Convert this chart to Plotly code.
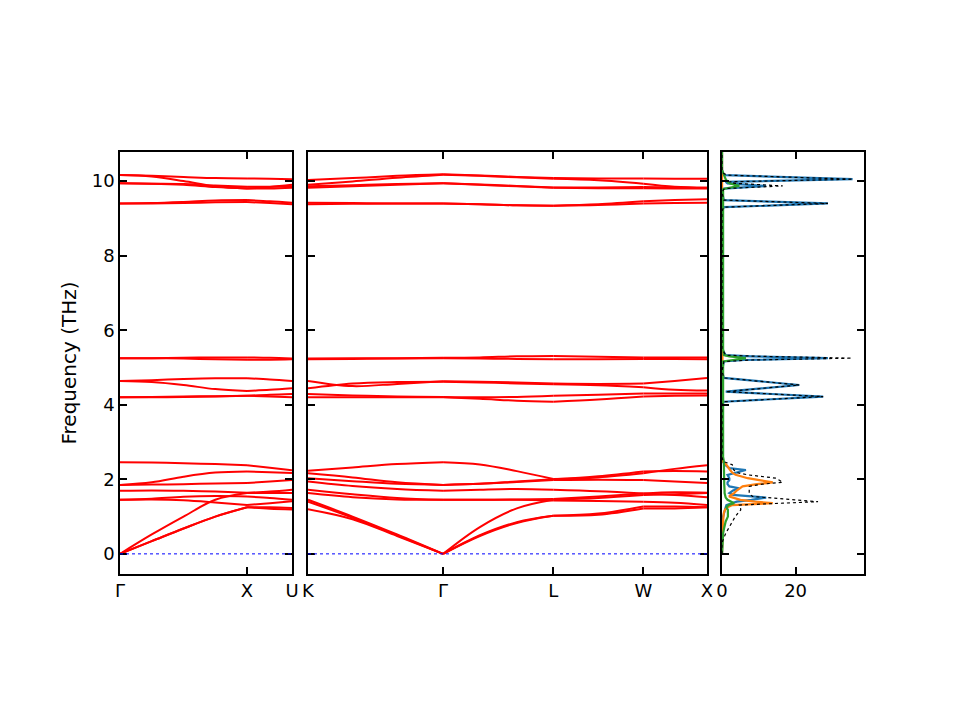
import plotly.graph_objects as go

# ---- band structure data (frequencies in THz) ----
# path distances along the zone path, 2pi/a units
k_left = [0.0, 0.25, 0.5, 0.75, 1.0, 1.18, 1.354]
sym_left = [0, 4, 6]
lab_left = ['Γ', 'X', 'U']

k_mid = [0.0, 0.35, 0.7, 1.061, 1.35, 1.64, 1.927, 2.28, 2.634, 2.88, 3.134]
sym_mid = [0, 3, 6, 8, 10]
lab_mid = ['K', 'Γ', 'L', 'W', 'X']

# Γ -> X -> U
bands_left = [
    [10.16, 10.14, 10.11, 10.08, 10.07, 10.06, 10.05],
    [10.16, 10.12, 10.00, 9.86, 9.80, 9.84, 9.90],
    [9.94, 9.93, 9.92, 9.88, 9.85, 9.85, 9.86],
    [9.94, 9.93, 9.90, 9.84, 9.80, 9.80, 9.82],
    [9.40, 9.41, 9.44, 9.48, 9.49, 9.46, 9.42],
    [9.40, 9.40, 9.41, 9.43, 9.44, 9.41, 9.38],
    [5.25, 5.25, 5.26, 5.27, 5.27, 5.26, 5.24],
    [5.25, 5.25, 5.24, 5.22, 5.21, 5.21, 5.22],
    [4.64, 4.66, 4.69, 4.71, 4.71, 4.68, 4.64],
    [4.64, 4.61, 4.53, 4.42, 4.37, 4.40, 4.44],
    [4.20, 4.21, 4.22, 4.23, 4.24, 4.27, 4.29],
    [4.20, 4.20, 4.21, 4.22, 4.24, 4.22, 4.20],
    [2.46, 2.45, 2.43, 2.41, 2.38, 2.31, 2.24],
    [1.85, 1.92, 2.07, 2.18, 2.21, 2.19, 2.17],
    [1.85, 1.86, 1.87, 1.89, 1.90, 1.94, 1.98],
    [1.69, 1.70, 1.69, 1.67, 1.64, 1.67, 1.72],
    [1.45, 1.48, 1.53, 1.55, 1.54, 1.50, 1.45],
    [1.45, 1.46, 1.44, 1.38, 1.31, 1.36, 1.41],
    [0.00, 0.52, 1.00, 1.45, 1.63, 1.63, 1.63],
    [0.00, 0.34, 0.68, 1.00, 1.25, 1.25, 1.23],
    [0.00, 0.34, 0.68, 1.00, 1.25, 1.21, 1.19],
]

# K -> Γ -> L -> W -> X
bands_mid = [
    [10.03, 10.08, 10.14, 10.18, 10.15, 10.11, 10.08, 10.07, 10.07, 10.06, 10.06],
    [9.90, 9.99, 10.09, 10.17, 10.14, 10.10, 10.06, 10.02, 9.93, 9.85, 9.82],
    [9.86, 9.89, 9.92, 9.94, 9.91, 9.87, 9.83, 9.83, 9.84, 9.83, 9.82],
    [9.82, 9.86, 9.90, 9.94, 9.90, 9.86, 9.82, 9.81, 9.81, 9.80, 9.80],
    [9.42, 9.41, 9.40, 9.40, 9.38, 9.35, 9.34, 9.38, 9.46, 9.49, 9.51],
    [9.38, 9.39, 9.40, 9.40, 9.38, 9.35, 9.34, 9.36, 9.40, 9.41, 9.42],
    [5.24, 5.25, 5.25, 5.26, 5.27, 5.30, 5.31, 5.29, 5.27, 5.27, 5.27],
    [5.22, 5.23, 5.24, 5.25, 5.24, 5.23, 5.22, 5.22, 5.23, 5.23, 5.22],
    [4.64, 4.50, 4.56, 4.63, 4.62, 4.60, 4.57, 4.56, 4.57, 4.64, 4.72],
    [4.44, 4.57, 4.61, 4.62, 4.60, 4.57, 4.55, 4.52, 4.47, 4.40, 4.38],
    [4.29, 4.25, 4.22, 4.21, 4.20, 4.21, 4.24, 4.27, 4.30, 4.30, 4.30],
    [4.20, 4.20, 4.20, 4.20, 4.16, 4.11, 4.08, 4.14, 4.22, 4.24, 4.25],
    [2.23, 2.32, 2.41, 2.46, 2.40, 2.22, 2.01, 2.05, 2.16, 2.28, 2.38],
    [2.16, 2.05, 1.92, 1.85, 1.88, 1.94, 2.00, 2.08, 2.21, 2.22, 2.21],
    [2.03, 1.95, 1.88, 1.85, 1.88, 1.93, 1.98, 1.99, 1.98, 1.94, 1.90],
    [1.94, 1.82, 1.74, 1.69, 1.72, 1.74, 1.72, 1.68, 1.62, 1.65, 1.64],
    [1.72, 1.60, 1.50, 1.45, 1.45, 1.46, 1.47, 1.54, 1.62, 1.58, 1.52],
    [1.63, 1.52, 1.46, 1.45, 1.45, 1.45, 1.43, 1.42, 1.40, 1.37, 1.31],
    [1.45, 1.00, 0.52, 0.00, 0.72, 1.22, 1.45, 1.50, 1.58, 1.60, 1.63],
    [1.40, 0.97, 0.50, 0.00, 0.50, 0.85, 1.02, 1.08, 1.27, 1.27, 1.25],
    [1.20, 0.93, 0.48, 0.00, 0.48, 0.83, 1.02, 1.05, 1.22, 1.22, 1.25],
]

# ---- projected DOS ----
dos_freq = [0.00, 0.30, 0.55, 0.70, 0.87, 1.00, 1.10, 1.18, 1.25, 1.31, 1.36, 1.40,
            1.45, 1.51, 1.54, 1.58, 1.63, 1.70, 1.76, 1.81, 1.87, 1.92, 1.98, 2.03,
            2.12, 2.18, 2.25, 2.30, 2.39, 2.48, 2.60, 4.00, 4.08, 4.22, 4.35, 4.53,
            4.72, 4.90, 5.16, 5.20, 5.25, 5.30, 5.33, 5.50, 9.20, 9.30, 9.40, 9.49,
            9.70, 9.78, 9.80, 9.87, 9.94, 9.98, 10.05, 10.16, 10.20, 10.30, 10.80]
dos_total = [0.0, 0.0, 1.0, 1.8, 2.8, 3.6, 4.4, 5.1, 5.0, 4.7, 16.6, 26.1,
             19.7, 12.1, 8.3, 7.8, 7.4, 7.4, 7.4, 7.4, 11.0, 16.5, 15.5, 14.7,
             7.0, 4.0, 3.2, 3.0, 2.8, 0.3, 0.0, 0.0, 0.5, 27.5, 1.0, 21.0,
             0.5, 0.0, 0.5, 8.0, 35.3, 10.0, 1.0, 0.0, 0.0, 0.5, 28.8, 0.5,
             0.0, 0.5, 1.0, 16.5, 3.5, 2.0, 35.6, 1.5, 0.5, 0.0, 0.0]
dos_blue = [0.0, 0.0, 0.0, 0.0, 0.1, 0.3, 0.5, 0.8, 1.0, 1.2, 2.5, 4.0,
            8.0, 12.0, 8.0, 3.0, 2.0, 3.0, 4.7, 2.0, 1.5, 1.5, 2.0, 2.0,
            1.5, 3.5, 6.5, 2.0, 0.8, 0.2, 0.0, 0.0, 0.5, 27.5, 1.0, 21.0,
            0.5, 0.0, 0.5, 6.0, 28.8, 8.0, 1.0, 0.0, 0.0, 0.5, 28.8, 0.5,
            0.0, 0.3, 0.5, 12.0, 1.5, 1.0, 35.5, 1.0, 0.3, 0.0, 0.0]
dos_orange = [0.0, 0.0, 0.2, 0.2, 0.3, 0.3, 0.5, 0.8, 1.5, 2.8, 13.8, 9.0,
              5.0, 3.0, 1.9, 2.5, 3.3, 4.0, 4.8, 5.6, 9.5, 13.8, 10.1, 7.0,
              3.7, 2.8, 2.2, 1.9, 1.2, 0.2, 0.15, 0.15, 0.15, 0.15, 0.15, 0.15,
              0.15, 0.15, 0.15, 0.15, 0.15, 0.15, 0.15, 0.15, 0.15, 0.15, 0.15, 0.15,
              0.15, 0.15, 0.15, 0.15, 0.15, 0.15, 0.15, 0.15, 0.15, 0.0, 0.0]
dos_green = [0.0, 0.1, 0.3, 0.6, 1.0, 1.6, 1.7, 1.6, 1.2, 1.8, 3.3, 2.5,
             1.5, 1.0, 0.9, 0.8, 0.7, 0.7, 0.6, 0.6, 0.6, 0.6, 0.6, 0.6,
             0.5, 0.5, 0.5, 0.5, 0.5, 0.5, 0.3, 0.3, 0.3, 0.5, 0.3, 0.3,
             0.3, 0.3, 0.3, 3.0, 6.5, 2.0, 0.5, 0.3, 0.3, 0.3, 0.3, 0.3,
             0.3, 0.3, 1.0, 4.7, 2.0, 1.5, 1.0, 0.6, 0.3, 0.0, 0.0]

fig = go.Figure()

# bands, drawn segment by segment between high-symmetry points
for xa, ya, kk, sym, bands in [('x', 'y', k_left, sym_left, bands_left),
                               ('x2', 'y2', k_mid, sym_mid, bands_mid)]:
    for b in bands:
        for i0, i1 in zip(sym[:-1], sym[1:]):
            fig.add_trace(go.Scatter(
                x=kk[i0:i1 + 1], y=b[i0:i1 + 1], mode='lines',
                line=dict(color='#ff0000', width=2, shape='spline', smoothing=1.0),
                xaxis=xa, yaxis=ya, showlegend=False, hoverinfo='skip'))

# dos
for vals, col, w, dash in [(dos_blue, '#1f77b4', 2.2, 'solid'),
                           (dos_orange, '#ff7f0e', 2.2, 'solid'),
                           (dos_green, '#2ca02c', 2.2, 'solid'),
                           (dos_total, 'black', 1.2, 'dot')]:
    fig.add_trace(go.Scatter(x=vals, y=dos_freq, mode='lines',
                             line=dict(color=col, width=w, dash=dash),
                             xaxis='x3', yaxis='y3', showlegend=False))

# zero line in band panels
for xr, yr in [('x domain', 'y'), ('x2 domain', 'y2')]:
    fig.add_shape(type='line', xref=xr, yref=yr, x0=0, x1=1, y0=0, y1=0,
                  line=dict(color='blue', width=1, dash='dot'))

W, H = 960, 720
off = 8  # page body margin
font = dict(family='DejaVu Sans', size=18, color='black')
ax = dict(showline=True, linecolor='black', linewidth=1.5, mirror='ticks',
          ticks='inside', ticklen=7, tickwidth=1.5, tickcolor='black',
          showgrid=False, zeroline=False, tickfont=font, automargin=False)
yrange = [-0.54, 10.78]
ydom = [(H - 574 + off) / H, (H - 152 + off) / H]


def xdom(a, b):
    return [(a - off) / W, (b - off) / W]


fig.update_layout(
    width=W, height=H,
    margin=dict(l=0, r=0, t=0, b=0),
    paper_bgcolor='white', plot_bgcolor='white',
    font=font,
    xaxis=dict(ax, domain=xdom(120, 292), range=[k_left[0], k_left[-1]],
               tickvals=[k_left[i] for i in sym_left], ticktext=lab_left),
    xaxis2=dict(ax, domain=xdom(308, 707), range=[k_mid[0], k_mid[-1]],
                tickvals=[k_mid[i] for i in sym_mid], ticktext=lab_mid),
    xaxis3=dict(ax, domain=xdom(722, 864), range=[0, 38.6],
                tickvals=[0, 20]),
    yaxis=dict(ax, domain=ydom, range=yrange, dtick=2, anchor='x',
               title=dict(text='Frequency (THz)',
                          font=dict(family='DejaVu Sans', size=20, color='black'),
                          standoff=10)),
    yaxis2=dict(ax, domain=ydom, range=yrange, dtick=2, anchor='x2',
                showticklabels=False),
    yaxis3=dict(ax, domain=ydom, range=yrange, dtick=2, anchor='x3',
                showticklabels=False),
)

fig.write_html("out.html")
